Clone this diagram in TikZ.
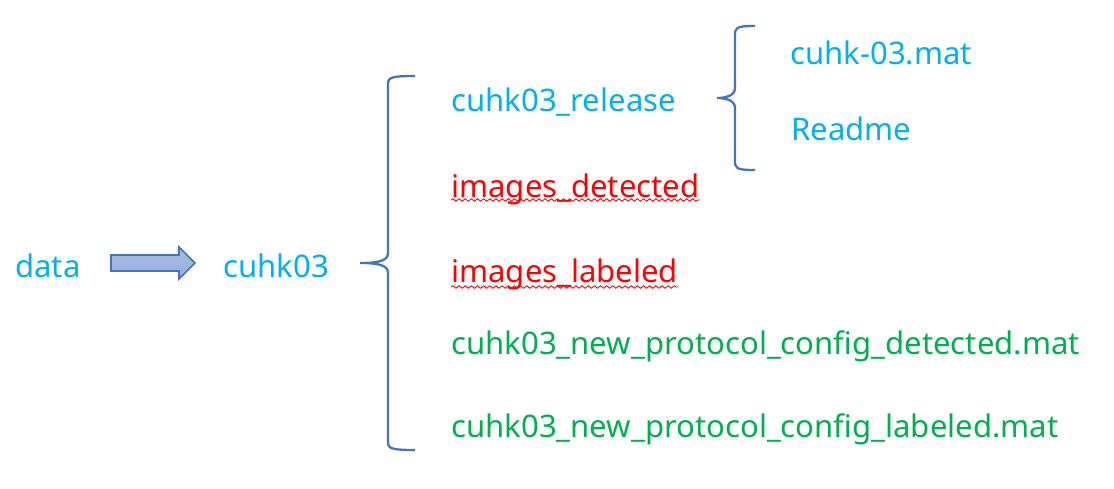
\documentclass[tikz,border=0pt]{standalone}
\usepackage{fontspec}
\setmainfont{Noto Sans}
\usepackage{tikz}
\usetikzlibrary{decorations.pathmorphing}
\definecolor{CtBlue}{RGB}{0,176,240}
\definecolor{CtGreen}{RGB}{0,176,80}
\definecolor{CtRed}{RGB}{255,0,0}
\definecolor{CbLine}{RGB}{68,114,196}
\definecolor{CbFill}{RGB}{143,170,220}
\tikzset{
txt/.style={anchor=west, inner sep=0pt, font=\fontsize{17.7}{20}\selectfont},
bluetxt/.style={txt, text=CtBlue},
greentxt/.style={txt, text=CtGreen},
redtxt/.style={txt, text=CtRed},
squiggle/.style={CtRed, line width=0.5pt, decorate, decoration={snake, amplitude=0.7, segment length=3.5}},
bracel/.style={CbLine, line width=1.3pt},
}

\begin{document}
\begin{tikzpicture}[x=0.02cm, y=-0.02cm]
\useasboundingbox (0,0) rectangle (1114,489);

%% Definitions
\newcommand\drawBrace[5]
{
% tip x: #1
% tip y: #2
% line x: #3
% end x: #4
% half height: #5
\draw[bracel] (#4,#2-#5) .. controls (#3,#2-#5) and (#3,#2-#5+2) .. (#3,#2-#5+10)
-- (#3,#2-10) .. controls (#3,#2-2) and (#3-10,#2) .. (#1,#2)
(#1,#2) .. controls (#3-10,#2) and (#3,#2+2) .. (#3,#2+10)
-- (#3,#2+#5-10) .. controls (#3,#2+#5-2) and (#3,#2+#5) .. (#4,#2+#5);
}

% --------------------------------------------------------

%% left part
\node[bluetxt] (data) at (15,266) {data};
\draw[CbLine, line width=0.9pt, top color=CbFill!80, bottom color=CbFill, middle color=CbFill!85]
  (111,255) -- (179,255) -- (179,247) -- (195,263) -- (179,279) -- (179,271) -- (111,271) -- cycle;
\node[bluetxt] (cuhk) at (223,266) {cuhk03};

%% big brace
\drawBrace{360}{263}{388}{415}{187}

%% folder content
\node[bluetxt] (rel) at (451,102) {cuhk03\_release};
\node[redtxt] (det) at (451,189) {images\_detected};
\node[redtxt] (lab) at (451,274) {images\_labeled};
\node[greentxt] (cfgd) at (451,346) {cuhk03\_new\_protocol\_config\_detected.mat};
\node[greentxt] (cfgl) at (451,429) {cuhk03\_new\_protocol\_config\_labeled.mat};

%% spell check marks
\draw[squiggle] (det.west |- 0,200) -- (det.east |- 0,200);
\draw[squiggle] (lab.west |- 0,287) -- (lab.east |- 0,287);

%% small brace
\drawBrace{717}{98}{735}{755}{72}

\node[bluetxt] (mat) at (790,53) {cuhk-03.mat};
\node[bluetxt] (rdm) at (791,129) {Readme};
\end{tikzpicture}
\end{document}
